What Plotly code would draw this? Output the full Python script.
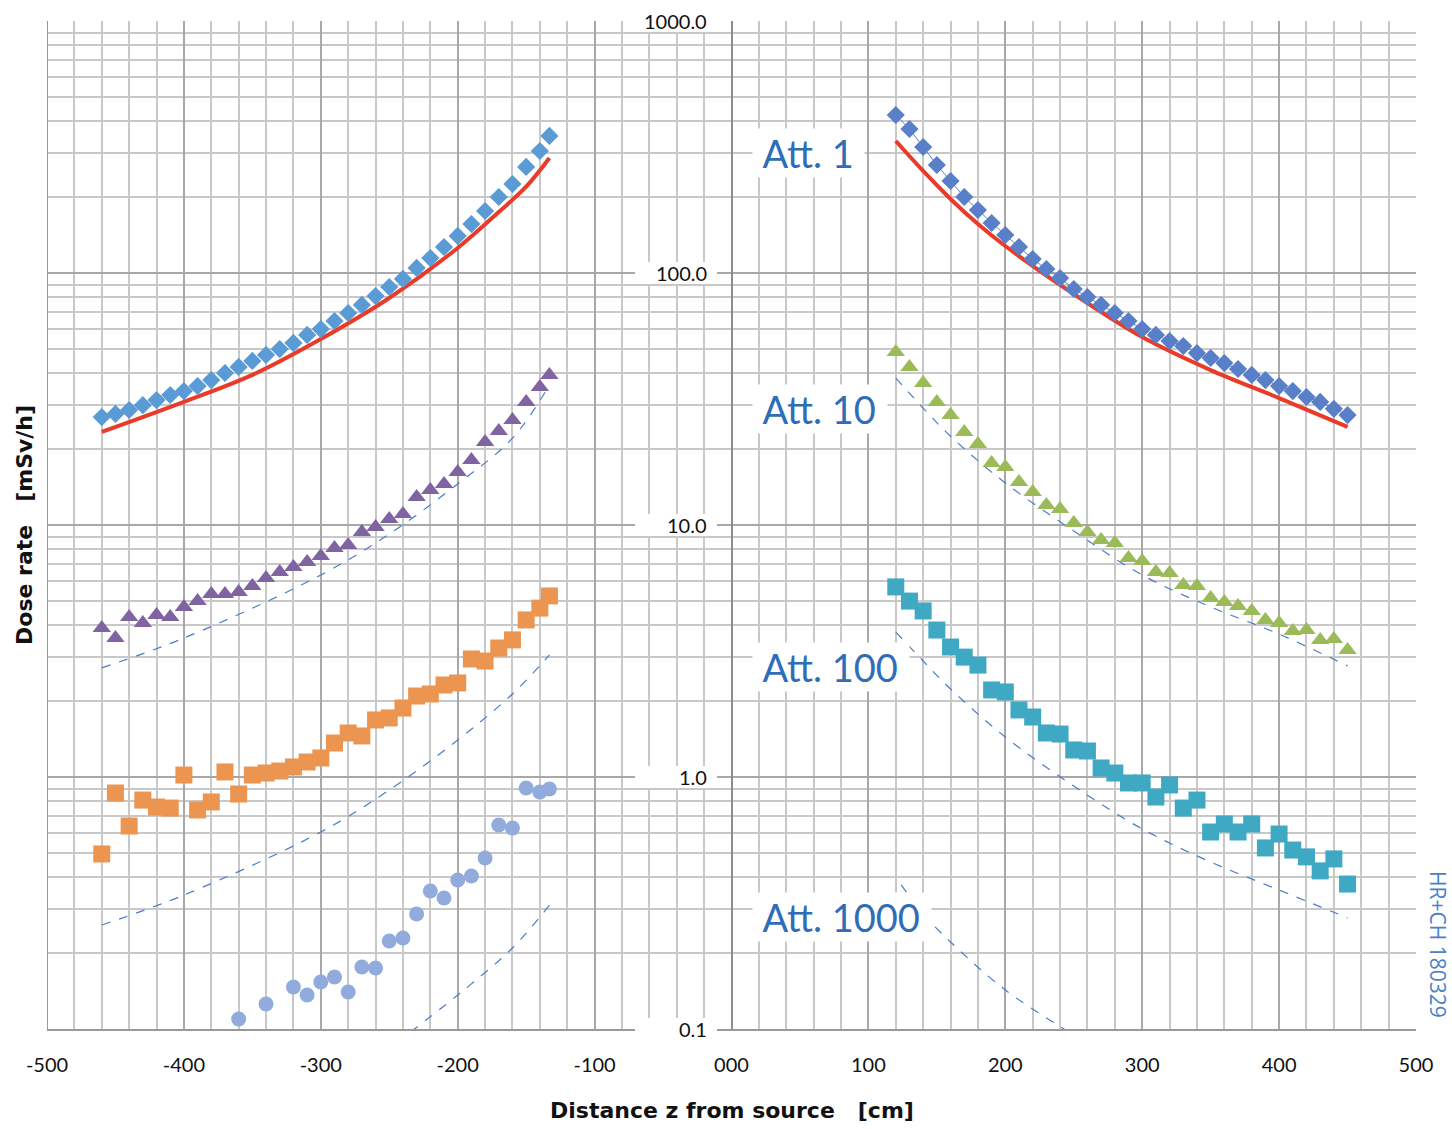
import math
import plotly.graph_objects as go

# ---------------- data ----------------
x_left = [-460, -450, -440, -430, -420, -410, -400, -390, -380, -370, -360, -350, -340, -330, -320, -310, -300,
          -290, -280, -270, -260, -250, -240, -230, -220, -210, -200, -190, -180, -170, -160, -150, -140, -133]
x_right = [120, 130, 140, 150, 160, 170, 180, 190, 200, 210, 220, 230, 240, 250, 260, 270, 280,
           290, 300, 310, 320, 330, 340, 350, 360, 370, 380, 390, 400, 410, 420, 430, 440, 450]

att1_left = [26.8, 27.6, 28.6, 29.9, 31.3, 32.8, 34.0, 35.6, 37.6, 40.1, 42.4, 44.8, 47.3, 49.9, 52.8, 56.8, 59.9,
             64.5, 69.4, 74.7, 81.0, 88.0, 94.7, 104.7, 114.7, 126.8, 140.3, 156.5, 176.2, 200.3, 225.5, 263.5, 304.9, 349.8]
att1_right = [423.6, 372.8, 316.2, 268.3, 231.8, 200.3, 177.8, 157.9, 141.5, 126.8, 113.6, 103.7, 95.5, 86.4, 80.3, 74.7, 69.4,
              64.5, 59.9, 56.8, 53.7, 51.3, 48.1, 46.0, 43.9, 41.6, 39.4, 37.6, 35.6, 34.0, 32.2, 30.8, 28.9, 27.3]

att10_left = [3.90, 3.56, 4.31, 4.08, 4.39, 4.31, 4.73, 4.99, 5.32, 5.32, 5.42, 5.73, 6.16, 6.51, 6.81, 7.13, 7.53,
              8.10, 8.33, 9.38, 9.82, 10.56, 11.06, 12.92, 13.77, 14.55, 16.23, 18.11, 21.35, 23.60, 26.10, 30.77, 35.29, 39.37]
att10_right = [48.6, 42.4, 36.6, 30.77, 27.3, 23.4, 20.96, 17.62, 16.99, 14.81, 13.52, 12.01, 11.57, 10.18, 9.38, 8.72, 8.48,
               7.40, 7.20, 6.51, 6.45, 5.78, 5.73, 5.13, 4.95, 4.77, 4.56, 4.20, 4.08, 3.80, 3.83, 3.50, 3.53, 3.19]

att100_left = [0.495, 0.864, 0.639, 0.810, 0.760, 0.753, 1.018, 0.740, 0.796, 1.047, 0.856, 1.018, 1.037, 1.056, 1.096, 1.147, 1.190,
               1.364, 1.495, 1.455, 1.684, 1.715, 1.878, 2.096, 2.135, 2.318, 2.361, 2.940, 2.886, 3.250, 3.50, 4.20, 4.68, 5.23]
att100_right = [5.68, 4.99, 4.56, 3.83, 3.28, 2.99, 2.78, 2.215, 2.175, 1.845, 1.730, 1.495, 1.481, 1.280, 1.268, 1.086, 1.037,
                0.947, 0.947, 0.833, 0.930, 0.753, 0.810, 0.605, 0.651, 0.605, 0.651, 0.523, 0.594, 0.513, 0.482, 0.424, 0.473, 0.376]

x_att1000 = [-360, -340, -320, -310, -300, -290, -280, -270, -260, -250, -240, -230, -220, -210, -200, -190, -180,
             -170, -160, -150, -140, -133]
att1000_left = [0.1096, 0.1257, 0.1468, 0.1364, 0.1537, 0.1608, 0.1402, 0.1762, 0.1746, 0.2235, 0.2297, 0.2860, 0.3528,
                0.3311, 0.3902, 0.4046, 0.4771, 0.645, 0.627, 0.904, 0.872, 0.896]

# model curves
model_x_left = [-460, -400, -350, -300, -250, -200, -170, -150, -133]
model1_left = [23.4, 30.8, 39.4, 54.7, 79.6, 125.7, 174.6, 220.0, 286]
model_x_right = [120, 140, 160, 180, 200, 250, 300, 350, 400, 450]
model1_right = [334, 254, 196.7, 156.5, 128, 82.5, 55.7, 41.2, 31.9, 24.5]

m10_x_left = [-460, -400, -300, -250, -200, -160, -133]
m10_left = [2.71, 3.56, 6.33, 9.21, 14.55, 22.1, 35.9]
m100_left = [0.2587, 0.340, 0.605, 0.888, 1.402, 2.135, 3.05]
m1000_x_left = [-245, -200, -160, -133]
m1000_left = [0.088, 0.1364, 0.2097, 0.310]

m_x_right = [120, 140, 160, 200, 250, 300, 350, 400, 450]
m10_right = [38.3, 29.1, 22.5, 14.68, 9.47, 6.33, 4.73, 3.69, 2.76]
m100_right = [3.76, 2.886, 2.235, 1.441, 0.921, 0.622, 0.460, 0.356, 0.276]
m1000_x_right = [124, 140, 160, 200, 250]
m1000_right = [0.373, 0.286, 0.2215, 0.1428, 0.0947]

x_ticks = [-500, -400, -300, -200, -100, 0, 100, 200, 300, 400, 500]
x_tick_text = ["-500", "-400", "-300", "-200", "-100", "000", "100", "200", "300", "400", "500"]
y_ticks = [1000, 100, 10, 1, 0.1]
y_tick_text = ["1000.0", "100.0", "10.0", "1.0", "0.1"]
att_labels = ["Att. 1", "Att. 10", "Att. 100", "Att. 1000"]
att_label_y = [299, 28.9, 2.73, 0.278]

# ---------------- figure ----------------
fig = go.Figure()

DASH_C = "#4A7CC9"
def dashed(x, y):
    fig.add_trace(go.Scatter(x=x, y=y, mode="lines", line=dict(color=DASH_C, width=1.2, dash="dash", shape="spline"),
                             showlegend=False, hoverinfo="skip"))

for xx, yy in [(m10_x_left, m10_left), (m10_x_left, m100_left), (m1000_x_left, m1000_left),
               (m_x_right, m10_right), (m_x_right, m100_right), (m1000_x_right, m1000_right)]:
    dashed(xx, yy)

# red model lines
for xx, yy in [(model_x_left, model1_left), (model_x_right, model1_right)]:
    fig.add_trace(go.Scatter(x=xx, y=yy, mode="lines", line=dict(color="#EA3B2A", width=4, shape="spline"),
                             showlegend=False))

def markers(x, y, symbol, color, size, mode="markers"):
    fig.add_trace(go.Scatter(x=x, y=y, mode=mode,
                             marker=dict(symbol=symbol, color=color, size=size, line=dict(width=0)),
                             line=dict(color="#5A82CC", width=1),
                             showlegend=False))

markers(x_left, att1_left, "diamond", "#5B9BD5", 14)
markers(x_right, att1_right, "diamond", "#5A7FC9", 14, mode="lines+markers")
markers(x_left, att10_left, "triangle-up", "#8064A2", 16)
markers(x_right, att10_right, "triangle-up", "#9BBB59", 16)
markers(x_left, att100_left, "square", "#EB9550", 17)
markers(x_right, att100_right, "square", "#3FA9C4", 17)
markers(x_att1000, att1000_left, "circle", "#91ACDC", 15)

# plot area in pixels: x 47..1416, y 21..1029
L, R, T, B = 47, 1416, 21, 1029
def px(xp):
    return (xp - L) / (R - L)
def py(yp):
    return (B - yp) / (B - T)

shapes = []
annotations = []
for v, t in zip(y_ticks, y_tick_text):
    yc = B - (math.log10(v) + 1) / 4 * (B - T)
    shapes.append(dict(type="rect", xref="paper", yref="paper", x0=px(635), x1=px(717),
                       y0=py(yc + 11), y1=py(yc - 11), fillcolor="white", line=dict(width=0), layer="above"))
    annotations.append(dict(x=px(708), y=math.log10(v), xref="paper", yref="y", yanchor="middle", xanchor="right",
                            text=t, showarrow=False, borderpad=0,
                            font=dict(family="Lato", size=20, color="#111111")))
for t, v in zip(att_labels, att_label_y):
    annotations.append(dict(x=15, y=math.log10(v), xref="x", yref="y", xanchor="left", yanchor="middle",
                            text=" " + t + " ", showarrow=False, bgcolor="white",
                            font=dict(family="Lato", size=38, color="#2F6DB8")))
annotations.append(dict(x=px(1438), y=py(944), xref="paper", yref="paper", text="HR+CH 180329", textangle=90,
                        xanchor="center", yanchor="middle", borderpad=0,
                        showarrow=False, font=dict(family="Open Sans", size=21, color="#4A82C8")))
annotations.append(dict(x=px(24), y=0.5, xref="paper", yref="paper", text="<b>Dose rate   [mSv/h]</b>",
                        textangle=-90, showarrow=False, xanchor="center", yanchor="middle",
                        font=dict(family="DejaVu Sans", size=22, color="#111111")))
annotations.append(dict(x=0.5, y=py(1110), xref="paper", yref="paper", text="<b>Distance z from source   [cm]</b>",
                        showarrow=False, xanchor="center", yanchor="middle",
                        font=dict(family="DejaVu Sans", size=22, color="#111111")))

# left frame line
shapes.append(dict(type="line", xref="x", yref="paper", x0=-500, x1=-500, y0=0, y1=1,
                   line=dict(color="#999999", width=2)))

fig.update_layout(
    width=1452, height=1129,
    margin=dict(l=L, r=1452 - R, t=T, b=1129 - B, autoexpand=False),
    paper_bgcolor="white", plot_bgcolor="white",
    annotations=annotations, shapes=shapes,
    xaxis=dict(range=[-500, 500], tickvals=x_ticks, ticktext=x_tick_text, showgrid=True,
               gridcolor="#A8A8A8", gridwidth=2, zeroline=False,
               minor=dict(dtick=20, showgrid=True, gridcolor="#C8C8C8", gridwidth=1.5),
               showline=True, linecolor="#999999", linewidth=2, ticks="", ticklabelstandoff=17,
               tickfont=dict(family="Lato", size=20, color="#111111")),
    yaxis=dict(type="log", range=[-1, 3], dtick=1, showgrid=True, gridcolor="#A8A8A8", gridwidth=2,
               minor=dict(dtick="D1", showgrid=True, gridcolor="#C8C8C8", gridwidth=1.5),
               showticklabels=False, ticks="", zeroline=False, showline=False),
    yaxis2=dict(type="log", range=[-1, 3], overlaying="y", anchor="free", position=0.5, showgrid=False,
                showticklabels=False, showline=True, linecolor="#8C8C8C", linewidth=2, ticks=""),
    showlegend=False,
)
fig.add_trace(go.Scatter(x=[0, 0], y=[0.1, 1000], yaxis="y2", mode="lines", line=dict(width=0),
                         showlegend=False, hoverinfo="skip"))

fig.write_html("out.html", config={"displayModeBar": False},
               post_script="document.body.style.margin='0px';")
